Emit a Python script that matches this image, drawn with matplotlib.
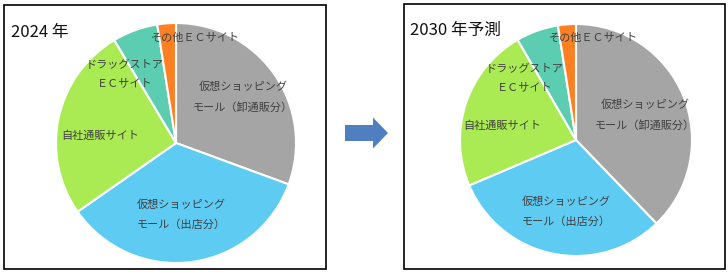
"""Two pie charts: EC market share 2024 vs 2030 forecast, with an arrow between."""

import matplotlib
matplotlib.use("Agg")

import matplotlib.pyplot as plt
from matplotlib.patches import Rectangle, FancyArrow

plt.rcParams["font.family"] = ["Noto Sans CJK JP", "DejaVu Sans"]

# data (shares in %, clockwise from 12 o'clock)
categories = [
    "仮想ショッピング\nモール（卸通販分）",
    "仮想ショッピング\nモール（出店分）",
    "自社通販サイト",
    "ドラッグストア\nＥＣサイト",
    "その他ＥＣサイト",
]
share_2024 = [30.6, 34.7, 26.1, 6.1, 2.5]
share_2030 = [37.8, 30.8, 23.0, 5.9, 2.5]
titles = ["2024 年", "2030 年予測"]

colors = ["#a5a5a5", "#5ecbf3", "#aaea52", "#5ccdb0", "#fe8023"]

# label positions in pie-radius units (text placement only)
label_pos_2024 = [(0.56, 0.38), (0.04, -0.60), (-0.63, 0.06), (-0.425, 0.575), (0.16, 0.875)]
label_pos_2030 = [(0.595, 0.215), (-0.08, -0.62), (-0.64, 0.12), (-0.44, 0.535), (0.15, 0.88)]

W, H = 728, 273
fig = plt.figure(figsize=(W / 100, H / 100), dpi=100)

# background layer in pixel coordinates: frames + arrow
bg = fig.add_axes([0, 0, 1, 1])
bg.set_xlim(0, W)
bg.set_ylim(H, 0)
bg.axis("off")
bg.add_patch(Rectangle((4, 5), 322, 264, fill=False, edgecolor="black", lw=1.2))
bg.add_patch(Rectangle((404, 4), 321, 265, fill=False, edgecolor="black", lw=1.2))
bg.add_patch(FancyArrow(345, 133, 43, 0, width=16, head_width=31, head_length=15,
                        length_includes_head=True, color="#4f7fc0", lw=0))


def draw_pie(cx, cy, r, values, label_pos, title, title_xy):
    ax = fig.add_axes([(cx - r) / W, (H - cy - r) / H, 2 * r / W, 2 * r / H])
    ax.pie(values, colors=colors, startangle=90, counterclock=False, radius=1,
           wedgeprops=dict(edgecolor="white", linewidth=1.5))
    ax.set_xlim(-1, 1)
    ax.set_ylim(-1, 1)
    ax.set_aspect("equal")
    for text, (x, y) in zip(categories, label_pos):
        ax.text(x, y, text, ha="center", va="center", fontsize=8, color="#404040",
                linespacing=2.1, clip_on=False)
    bg.text(title_xy[0], title_xy[1], title, fontsize=12, color="#111111",
            ha="left", va="center")


draw_pie(176, 143, 120, share_2024, label_pos_2024, titles[0], (11, 33))
draw_pie(576, 140, 116, share_2030, label_pos_2030, titles[1], (410, 30))

fig.savefig("out.png", dpi=100)
plt.close(fig)
